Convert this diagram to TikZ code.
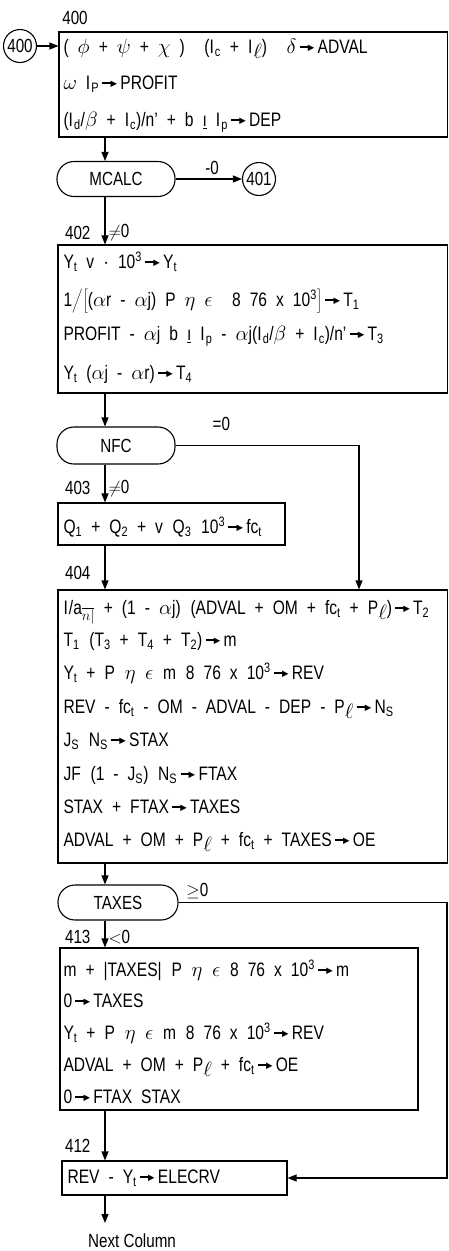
\documentclass[tikz,border=0pt]{standalone}
\usepackage{fontspec}
\setmainfont{Liberation Sans}[FakeStretch=0.8]
\newfontfamily\symf{DejaVu Sans}
\usepackage{tikz}
\usetikzlibrary{arrows.meta}

\newcommand{\lo}[1]{\textsubscript{#1}}
\newcommand{\hi}[1]{\textsuperscript{#1}}
\newcommand{\ellsub}{\raisebox{-0.25em}{$\ell$}}
\newcommand{\gives}{\,\rule[0.3em]{0.5em}{0.08em}\kern-0.08em\raisebox{2.8pt}{\symf\fontsize{8.5}{8.5}\selectfont ▶}\,}
\newcommand{\Iv}{$\mathrm{I}$}

\tikzset{
  chart/.style={x=1pt, y=-1pt, line width=1.1pt, font=\fontsize{19}{22}\selectfont},
  calcbox/.style={draw, rectangle, inner sep=0pt},
  testbox/.style={draw, rectangle, rounded corners=17pt, inner sep=0pt,
    minimum width=118pt, minimum height=35pt},
  connector/.style={draw, circle, inner sep=1pt, minimum size=33pt},
  eqline/.style={anchor=west, inner sep=0pt, text height=13.5pt, text depth=0pt,
    font={\fontsize{19.5}{22}\selectfont\spaceskip=9pt plus 2pt\relax}},
  tag/.style={inner sep=0pt},
  flow/.style={-{Triangle[length=9pt,width=7pt]}},
}

\begin{document}
\begin{tikzpicture}[chart]
\useasboundingbox (0,0) rectangle (449,1251);

\def\tx{63} % left edge of the formulas
\coordinate (spine) at (105,0);
\coordinate (bypass) at (359,0);
\coordinate (rail) at (447,0);

% block 400
\node[connector] (c400) at (20,46) {400};
\node[tag] (l400) at (75,18) {400};
\node[calcbox, minimum width=388.5pt, minimum height=105pt] (b400) at (253.25,84.5) {};
\node[eqline] (a1) at (\tx,47) {( $\phi$ + $\psi$ + $\chi$ )\quad (\Iv\lo{c} + \Iv\ellsub)\quad $\delta$\gives ADVAL};
\node[eqline] (a2) at (\tx,83) {$\omega$ \Iv\lo{P}\gives PROFIT};
\node[eqline] (a3) at (\tx,120) {(\Iv\lo{d}/$\beta$ + \Iv\lo{c})/n' + b \underline{\i} \Iv\lo{p}\gives DEP};
\draw[flow] (c400) -- (c400 -| b400.west);

% test MCALC
\node[testbox] (mcalc) at (116,179) {MCALC};
\node[connector] (c401) at (259,179) {401};
\draw[flow] (b400.south -| spine) -- (mcalc.north -| spine);
\draw[flow] (mcalc) -- node[tag, pos=0.55, above=4pt] (e401) {-0} (c401);

% block 402
\node[calcbox, minimum width=389.5pt, minimum height=148pt] (b402) at (252.75,319) {};
\node[eqline] (b1) at (\tx,262) {Y\lo{t} v $\cdot$ 10\hi{3}\gives Y\lo{t}};
\node[eqline] (b2) at (\tx,300) {1$\Bigg/\Bigg[$($\alpha$r - $\alpha$j) P $\eta$ $\epsilon$\quad 8 76 x 10\hi{3}$\Bigg]$\gives T\lo{1}};
\node[eqline] (b3) at (\tx,334) {PROFIT - $\alpha$j b \underline{\i} \Iv\lo{p} - $\alpha$j(\Iv\lo{d}/$\beta$ + \Iv\lo{c})/n'\gives T\lo{3}};
\node[eqline] (b4) at (\tx,373) {Y\lo{t} ($\alpha$j - $\alpha$r)\gives T\lo{4}};
\draw[flow] (mcalc.south -| spine) -- node[tag, pos=0.75, left=14pt] (l402) {402}
  node[tag, pos=0.75, right=3pt] (n402) {$\neq$0} (b402.north -| spine);

% test NFC
\node[testbox, minimum height=37pt] (nfc) at (116,445.5) {NFC};
\draw[flow] (b402.south -| spine) -- (nfc.north -| spine);

% block 403
\node[calcbox, minimum width=227pt, minimum height=42pt] (b403) at (171.5,524) {};
\node[eqline] (c1) at (\tx,527) {Q\lo{1} + Q\lo{2} + v\enspace Q\lo{3}\enspace 10\hi{3}\gives fc\lo{t}};
\draw[flow] (nfc.south -| spine) -- node[tag, pos=0.62, left=14pt] (l403) {403}
  node[tag, pos=0.62, right=3pt] (n403) {$\neq$0} (b403.north -| spine);

% block 404
\node[calcbox, minimum width=389.5pt, minimum height=273pt] (b404) at (252.75,726.5) {};
\node[eqline] (d1) at (\tx,608) {\Iv/a\lo{$\overline{n|}$} + (1 - $\alpha$j)\enspace (ADVAL + OM + fc\lo{t} + P\ellsub)\gives T\lo{2}};
\node[eqline] (d2) at (\tx,640) {T\lo{1}\enspace (T\lo{3} + T\lo{4} + T\lo{2})\gives m};
\node[eqline] (d3) at (\tx,673) {Y\lo{t} + P\enspace $\eta$\enspace $\epsilon$\enspace m\enspace 8 76 x 10\hi{3}\gives REV};
\node[eqline] (d4) at (\tx,707) {REV - fc\lo{t} - OM - ADVAL - DEP - P\ellsub\gives N\lo{S}};
\node[eqline] (d5) at (\tx,740) {J\lo{S}\enspace N\lo{S}\gives STAX};
\node[eqline] (d6) at (\tx,774) {JF\enspace (1 - J\lo{S})\enspace N\lo{S}\gives FTAX};
\node[eqline] (d7) at (\tx,807) {STAX + FTAX\gives TAXES};
\node[eqline] (d8) at (\tx,840) {ADVAL + OM + P\ellsub{} + fc\lo{t} + TAXES\gives OE};
\draw[flow] (b403.south -| spine) -- node[tag, pos=0.62, left=14pt] (l404) {404} (b404.north -| spine);
\draw[flow] (nfc.east) -- node[tag, pos=0.25, above=14pt] (e403) {=0} (nfc.east -| bypass)
  -- (b404.north -| bypass);

% test TAXES
\node[testbox, minimum width=120pt] (taxes) at (118,902.5) {TAXES};
\draw[flow] (b404.south -| spine) -- (taxes.north -| spine);

% block 413
\node[calcbox, minimum width=358pt, minimum height=162pt] (b413) at (239,1029) {};
\node[eqline] (e1) at (\tx,970) {m + |TAXES|\enspace P\enspace $\eta$\enspace $\epsilon$\enspace 8 76 x 10\hi{3}\gives m};
\node[eqline] (e2) at (\tx,1001) {0\gives TAXES};
\node[eqline] (e3) at (\tx,1033) {Y\lo{t} + P\enspace $\eta$\enspace $\epsilon$\enspace m\enspace 8 76 x 10\hi{3}\gives REV};
\node[eqline] (e4) at (\tx,1065) {ADVAL + OM + P\ellsub{} + fc\lo{t}\gives OE};
\node[eqline] (e5) at (\tx,1097) {0\gives FTAX STAX};
\draw[flow] (taxes.south -| spine) -- node[tag, pos=0.6, left=14pt] (l413) {413}
  node[tag, pos=0.6, right=3pt] (n413) {$<$0} (b413.north -| spine);

% block 412
\node[calcbox, minimum width=225pt, minimum height=34pt] (b412) at (174.5,1178) {};
\node[eqline] (f1) at (67,1177) {REV - Y\lo{t}\gives ELECRV};
\draw[flow] (b413.south -| spine) -- node[tag, pos=0.7, left=14pt] (l412) {412} (b412.north -| spine);
\draw[flow] (taxes.east) -- node[tag, pos=0.07, above=3pt] (e412) {$\geq$0} (taxes.east -| rail)
  -- (b412.east -| rail) -- (b412.east);

% exit
\coordinate (nextcol) at (105,1223);
\draw[flow] (b412.south -| spine) -- (nextcol);
\node[tag] (next) at (132,1241) {Next Column};

\end{tikzpicture}
\end{document}
